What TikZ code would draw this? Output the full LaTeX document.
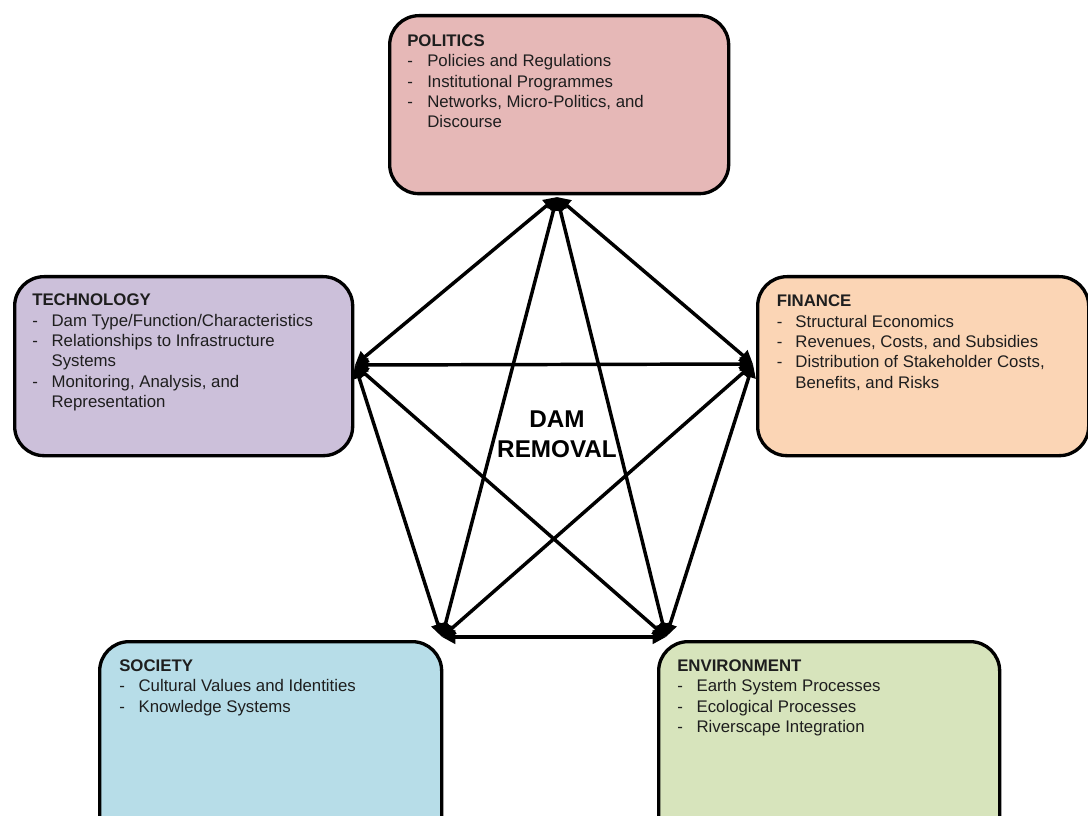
\documentclass[tikz,border=0pt]{standalone}
\usepackage{fontspec}
\setmainfont{Liberation Sans}
\usetikzlibrary{arrows.meta}
\definecolor{polc}{HTML}{E6B8B7}
\definecolor{tecc}{HTML}{CCC0DA}
\definecolor{finc}{HTML}{FBD5B5}
\definecolor{socc}{HTML}{B7DDE8}
\definecolor{envc}{HTML}{D7E4BC}
\definecolor{txt}{HTML}{1E1E1E}
\begin{document}
\begin{tikzpicture}[x=0.75pt,y=-0.75pt,
  box/.style={draw=black, line width=2.5pt, rounded corners=22pt, anchor=north west, inner sep=0pt},
  lbl/.style={anchor=base west, inner sep=0pt, text=txt, font=\fontsize{12.6pt}{15.2pt}\selectfont},
  link/.style={line width=2.6pt, {Triangle[length=10pt,width=10pt]}-{Triangle[length=10pt,width=10pt]}}]
\useasboundingbox (0,0) rectangle (1088,816);
\clip (0,0) rectangle (1088,816);

% boxes
\node[box, fill=polc, minimum width=254.25pt, minimum height=133.5pt] (pol) at (388,14) {};
\node[box, fill=tecc, minimum width=253.5pt, minimum height=134.25pt] (tec) at (13,275) {};
\node[box, fill=finc, minimum width=248.25pt, minimum height=134.25pt] (fin) at (756,275) {};
\node[box, fill=socc, minimum width=256.5pt, minimum height=165pt] (soc) at (98,640) {};
\node[box, fill=envc, minimum width=255.75pt, minimum height=165pt] (env) at (657,640) {};

% texts
\node[lbl] (polt) at ([shift={(19,32.5)}]pol.north west) {\begin{tabular}[t]{@{}p{15pt}@{}l@{}}
\multicolumn{2}{@{}l@{}}{\textbf{POLITICS}}\\
- & Policies and Regulations\\
- & Institutional Programmes\\
- & Networks, Micro-Politics, and\\
  & Discourse
\end{tabular}};
\node[lbl] (tect) at ([shift={(19,31)}]tec.north west) {\begin{tabular}[t]{@{}p{14.5pt}@{}l@{}}
\multicolumn{2}{@{}l@{}}{\textbf{TECHNOLOGY}}\\
- & Dam Type/Function/Characteristics\\
- & Relationships to Infrastructure\\
  & Systems\\
- & Monitoring, Analysis, and\\
  & Representation
\end{tabular}};
\node[lbl] (fint) at ([shift={(20.5,32)}]fin.north west) {\begin{tabular}[t]{@{}p{14pt}@{}l@{}}
\multicolumn{2}{@{}l@{}}{\textbf{FINANCE}}\\
- & Structural Economics\\
- & Revenues, Costs, and Subsidies\\
- & Distribution of Stakeholder Costs,\\
  & Benefits, and Risks
\end{tabular}};
\node[lbl] (soct) at ([shift={(21,31.5)}]soc.north west) {\begin{tabular}[t]{@{}p{14.5pt}@{}l@{}}
\multicolumn{2}{@{}l@{}}{\textbf{SOCIETY}}\\
- & Cultural Values and Identities\\
- & Knowledge Systems
\end{tabular}};
\node[lbl] (envt) at ([shift={(20,31.5)}]env.north west) {\begin{tabular}[t]{@{}p{14.5pt}@{}l@{}}
\multicolumn{2}{@{}l@{}}{\textbf{ENVIRONMENT}}\\
- & Earth System Processes\\
- & Ecological Processes\\
- & Riverscape Integration
\end{tabular}};

% centre label
\node[align=center, text=black, inner sep=0pt, font=\bfseries\fontsize{18.2pt}{22.5pt}\selectfont] (dam) at (557,434) {DAM\\REMOVAL};

% connection points
\coordinate (cP) at (557,197);
\coordinate (cT) at (355,365);
\coordinate (cF) at (753,364);
\coordinate (cS) at (442,637);
\coordinate (cE) at (666,637);

\foreach \a/\b in {cP/cT, cP/cF, cP/cS, cP/cE, cT/cF, cT/cS, cT/cE, cF/cS, cF/cE, cS/cE}
  \draw[link] (\a) -- (\b);
\end{tikzpicture}
\end{document}
